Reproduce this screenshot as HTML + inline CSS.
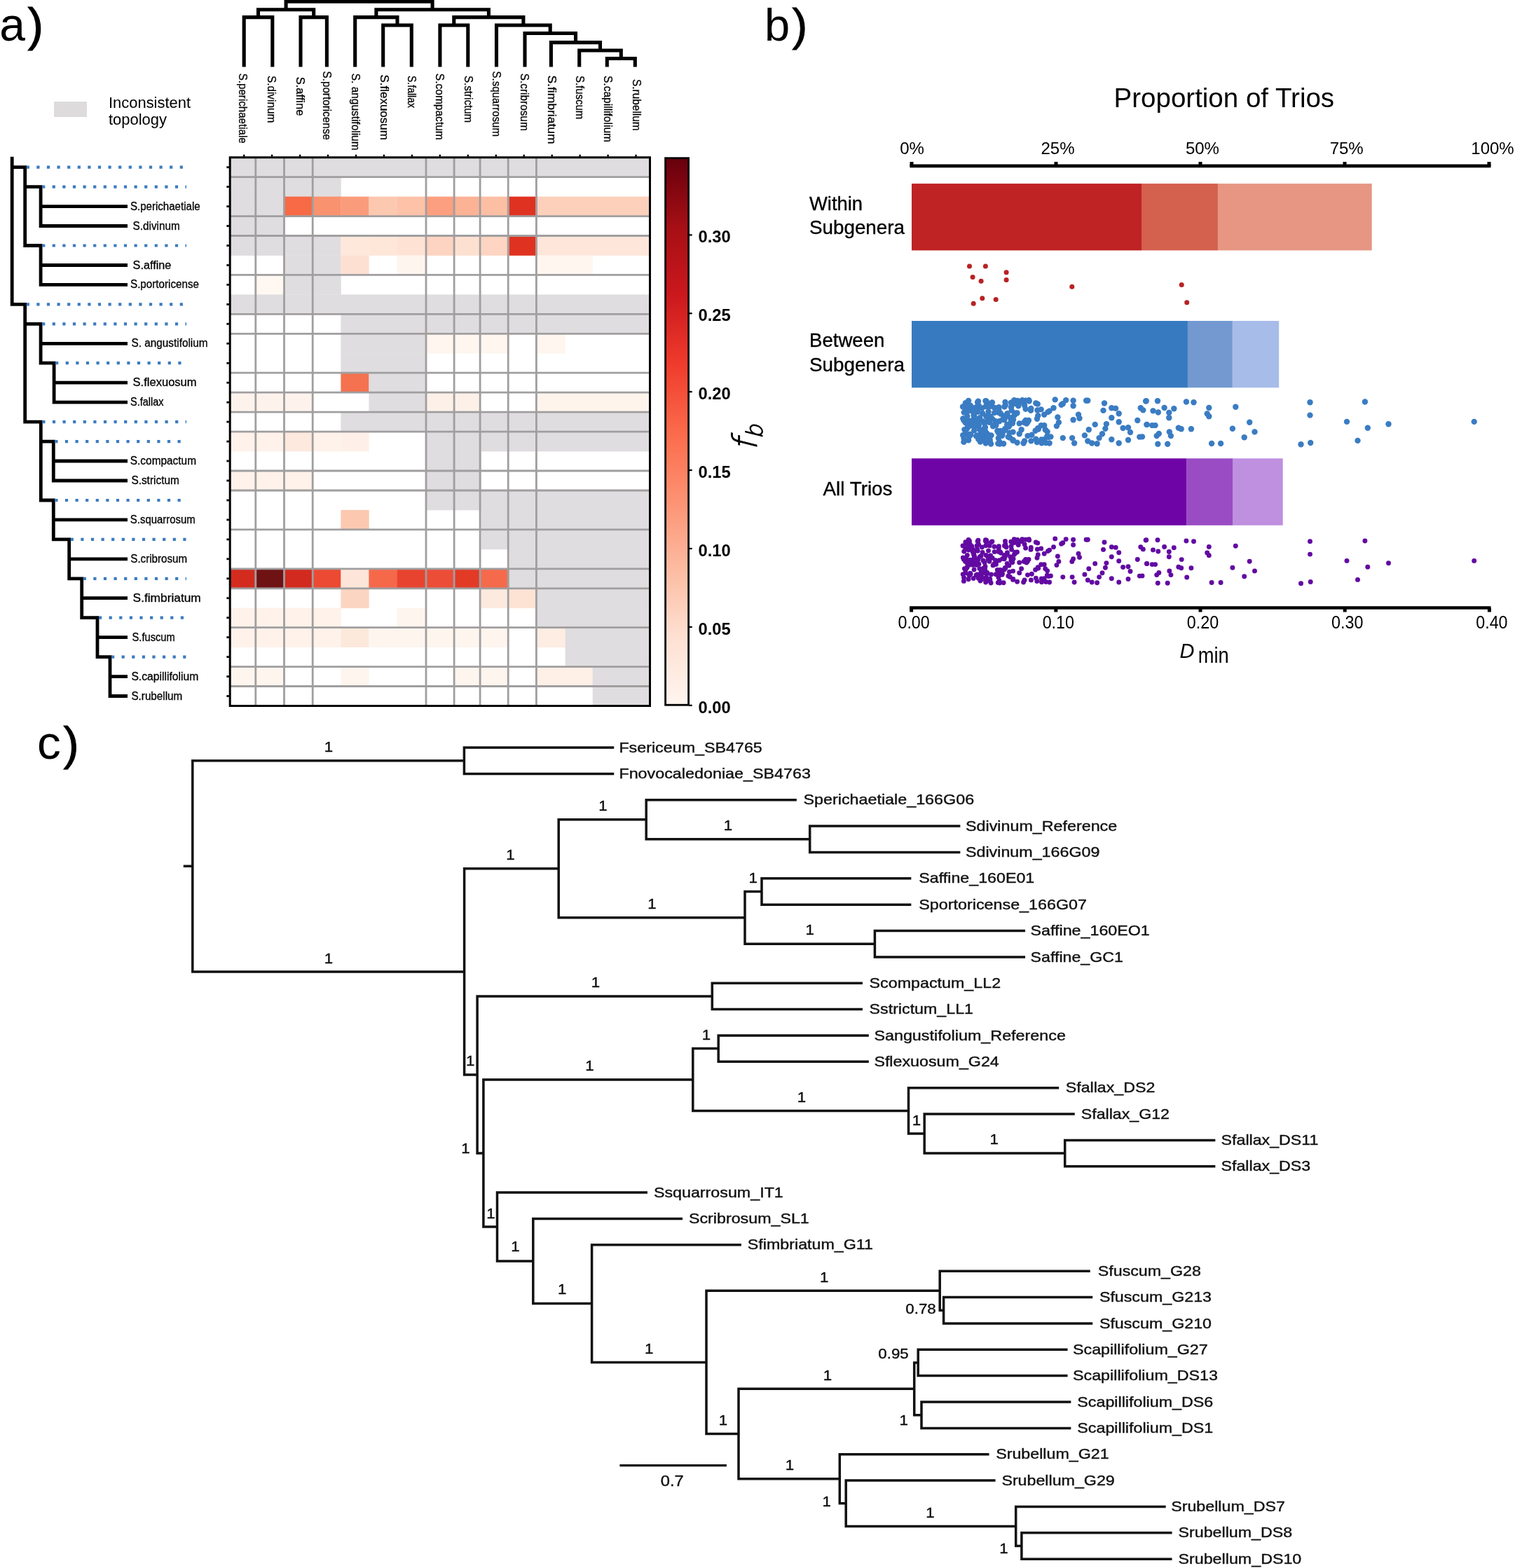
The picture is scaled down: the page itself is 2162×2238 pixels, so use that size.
<!DOCTYPE html>
<html><head><meta charset="utf-8"><title>Figure</title>
<style>html,body{margin:0;padding:0;background:#fff;} svg{display:block;} text{font-family:'Liberation Sans', Arial, sans-serif;}</style>
</head><body>
<svg width="2162" height="2238" viewBox="0 0 2162 2238">
<rect x="0" y="0" width="2162" height="2238" fill="#fff"/>
<text x="-0.8" y="57.5" font-size="66">a</text>
<text x="39.8" y="57.5" font-size="66" stroke="#000" stroke-width="1.2">)</text>
<rect x="77.0" y="145.0" width="47.0" height="22.0" fill="#dddbdc"/>
<text x="155.0" y="154.0" font-size="22" textLength="117.0" lengthAdjust="spacingAndGlyphs">Inconsistent</text>
<text x="155.0" y="177.5" font-size="22" textLength="83.0" lengthAdjust="spacingAndGlyphs">topology</text>
<path d="M348.2,95.5V24.6H388.8V95.5 M429.0,95.5V24.6H466.4V95.5 M368.5,24.6V13.8H447.7V24.6 M546.7,95.5V36.0H587.3V95.5 M506.7,95.5V24.6H567.0V36.0 M627.9,95.5V36.0H667.8V95.5 M866.3,95.5V83.5H906.3V95.5 M826.7,95.5V72.0H886.3V83.5 M786.4,95.5V60.6H856.5V72.0 M749.0,95.5V47.5H821.5V60.6 M708.5,95.5V36.0H785.2V47.5 M647.8,36.0V24.6H746.9V36.0 M536.9,24.6V13.8H697.4V24.6 M408.1,13.8V2.3H617.1V13.8" fill="none" stroke="#000" stroke-width="5.1" stroke-linejoin="miter" stroke-linecap="butt"/>
<text transform="translate(341.3,104.8) rotate(90)" font-size="17" textLength="99.9" lengthAdjust="spacingAndGlyphs" stroke="#000" stroke-width="0.3">S.perichaetiale</text>
<text transform="translate(382.2,108.0) rotate(90)" font-size="17" textLength="67.2" lengthAdjust="spacingAndGlyphs" stroke="#000" stroke-width="0.3">S.divinum</text>
<text transform="translate(423.2,109.7) rotate(90)" font-size="17" textLength="55.7" lengthAdjust="spacingAndGlyphs" stroke="#000" stroke-width="0.3">S.affine</text>
<text transform="translate(460.8,101.5) rotate(90)" font-size="17" textLength="98.3" lengthAdjust="spacingAndGlyphs" stroke="#000" stroke-width="0.3">S.portoricense</text>
<text transform="translate(501.8,104.8) rotate(90)" font-size="17" textLength="109.7" lengthAdjust="spacingAndGlyphs" stroke="#000" stroke-width="0.3">S. angustifolium</text>
<text transform="translate(542.7,106.5) rotate(90)" font-size="17" textLength="93.3" lengthAdjust="spacingAndGlyphs" stroke="#000" stroke-width="0.3">S.flexuosum</text>
<text transform="translate(582.0,108.0) rotate(90)" font-size="17" textLength="46.0" lengthAdjust="spacingAndGlyphs" stroke="#000" stroke-width="0.3">S.fallax</text>
<text transform="translate(622.0,104.8) rotate(90)" font-size="17" textLength="95.0" lengthAdjust="spacingAndGlyphs" stroke="#000" stroke-width="0.3">S.compactum</text>
<text transform="translate(662.5,108.0) rotate(90)" font-size="17" textLength="67.2" lengthAdjust="spacingAndGlyphs" stroke="#000" stroke-width="0.3">S.strictum</text>
<text transform="translate(703.3,101.5) rotate(90)" font-size="17" textLength="93.4" lengthAdjust="spacingAndGlyphs" stroke="#000" stroke-width="0.3">S.squarrosum</text>
<text transform="translate(742.5,104.8) rotate(90)" font-size="17" textLength="81.9" lengthAdjust="spacingAndGlyphs" stroke="#000" stroke-width="0.3">S.cribrosum</text>
<text transform="translate(781.8,107.4) rotate(90)" font-size="17" textLength="98.3" lengthAdjust="spacingAndGlyphs" stroke="#000" stroke-width="0.3">S.fimbriatum</text>
<text transform="translate(821.8,108.0) rotate(90)" font-size="17" textLength="62.3" lengthAdjust="spacingAndGlyphs" stroke="#000" stroke-width="0.3">S.fuscum</text>
<text transform="translate(862.0,108.0) rotate(90)" font-size="17" textLength="95.0" lengthAdjust="spacingAndGlyphs" stroke="#000" stroke-width="0.3">S.capillifolium</text>
<text transform="translate(903.0,113.0) rotate(90)" font-size="17" textLength="73.7" lengthAdjust="spacingAndGlyphs" stroke="#000" stroke-width="0.3">S.rubellum</text>
<rect x="328.2" y="224.7" width="599.6" height="28.3" fill="#dfdddf"/>
<rect x="328.2" y="252.7" width="158.5" height="28.3" fill="#dfdddf"/>
<rect x="328.2" y="280.6" width="78.1" height="28.3" fill="#dfdddf"/>
<rect x="406.0" y="280.6" width="40.8" height="28.3" fill="#f76a45"/>
<rect x="446.5" y="280.6" width="40.2" height="28.3" fill="#f9926f"/>
<rect x="486.4" y="280.6" width="40.3" height="28.3" fill="#fa9c7b"/>
<rect x="526.4" y="280.6" width="40.2" height="28.3" fill="#fdc8b0"/>
<rect x="566.3" y="280.6" width="41.0" height="28.3" fill="#fdc2a7"/>
<rect x="607.0" y="280.6" width="40.8" height="28.3" fill="#fb9f80"/>
<rect x="647.5" y="280.6" width="39.3" height="28.3" fill="#fcb295"/>
<rect x="686.5" y="280.6" width="40.3" height="28.3" fill="#fdbfa4"/>
<rect x="726.5" y="280.6" width="40.3" height="28.3" fill="#e03220"/>
<rect x="766.5" y="280.6" width="161.3" height="28.3" fill="#fdd0bb"/>
<rect x="328.2" y="308.6" width="78.1" height="28.3" fill="#dfdddf"/>
<rect x="328.2" y="336.5" width="158.5" height="28.3" fill="#dfdddf"/>
<rect x="486.4" y="336.5" width="40.3" height="28.3" fill="#fee8dc"/>
<rect x="526.4" y="336.5" width="40.2" height="28.3" fill="#fee6d9"/>
<rect x="566.3" y="336.5" width="41.0" height="28.3" fill="#fee2d4"/>
<rect x="607.0" y="336.5" width="40.8" height="28.3" fill="#fdd4c1"/>
<rect x="647.5" y="336.5" width="39.3" height="28.3" fill="#fee0d1"/>
<rect x="686.5" y="336.5" width="40.3" height="28.3" fill="#fdd5c2"/>
<rect x="726.5" y="336.5" width="40.3" height="28.3" fill="#e03220"/>
<rect x="766.5" y="336.5" width="161.3" height="28.3" fill="#fee6da"/>
<rect x="406.0" y="364.5" width="80.7" height="28.3" fill="#dfdddf"/>
<rect x="486.4" y="364.5" width="40.3" height="28.3" fill="#fde0d2"/>
<rect x="566.3" y="364.5" width="41.0" height="28.3" fill="#fff5ef"/>
<rect x="766.5" y="364.5" width="79.5" height="28.3" fill="#fff6f0"/>
<rect x="365.5" y="392.4" width="40.8" height="28.3" fill="#fff7f2"/>
<rect x="406.0" y="392.4" width="80.7" height="28.3" fill="#dfdddf"/>
<rect x="328.2" y="420.4" width="599.6" height="28.3" fill="#dfdddf"/>
<rect x="486.4" y="448.4" width="441.4" height="28.3" fill="#dfdddf"/>
<rect x="486.4" y="476.3" width="120.9" height="28.3" fill="#dfdddf"/>
<rect x="607.0" y="476.3" width="119.8" height="28.3" fill="#fef6ef"/>
<rect x="766.5" y="476.3" width="40.5" height="28.3" fill="#fef6ef"/>
<rect x="486.4" y="504.3" width="120.9" height="28.3" fill="#dfdddf"/>
<rect x="486.4" y="532.2" width="40.3" height="28.3" fill="#f4724f"/>
<rect x="526.4" y="532.2" width="80.9" height="28.3" fill="#dfdddf"/>
<rect x="328.2" y="560.2" width="118.6" height="28.3" fill="#fef3ec"/>
<rect x="526.4" y="560.2" width="80.9" height="28.3" fill="#dfdddf"/>
<rect x="607.0" y="560.2" width="79.8" height="28.3" fill="#fdf0e8"/>
<rect x="766.5" y="560.2" width="161.3" height="28.3" fill="#fef4ec"/>
<rect x="486.4" y="588.1" width="441.4" height="28.3" fill="#dfdddf"/>
<rect x="328.2" y="616.1" width="78.1" height="28.3" fill="#fef2ea"/>
<rect x="406.0" y="616.1" width="40.8" height="28.3" fill="#fde9de"/>
<rect x="446.5" y="616.1" width="40.2" height="28.3" fill="#fef2ea"/>
<rect x="486.4" y="616.1" width="40.3" height="28.3" fill="#fef0e8"/>
<rect x="607.0" y="616.1" width="320.8" height="28.3" fill="#dfdddf"/>
<rect x="607.0" y="644.1" width="79.8" height="28.3" fill="#dfdddf"/>
<rect x="328.2" y="672.0" width="118.6" height="28.3" fill="#fef2ea"/>
<rect x="607.0" y="672.0" width="79.8" height="28.3" fill="#dfdddf"/>
<rect x="607.0" y="700.0" width="320.8" height="28.3" fill="#dfdddf"/>
<rect x="486.4" y="727.9" width="40.3" height="28.3" fill="#fcc9b0"/>
<rect x="686.5" y="727.9" width="241.3" height="28.3" fill="#dfdddf"/>
<rect x="686.5" y="755.9" width="241.3" height="28.3" fill="#dfdddf"/>
<rect x="726.5" y="783.8" width="201.3" height="28.3" fill="#dfdddf"/>
<rect x="328.2" y="811.8" width="37.6" height="28.3" fill="#d42b1f"/>
<rect x="365.5" y="811.8" width="40.8" height="28.3" fill="#6e1214"/>
<rect x="406.0" y="811.8" width="40.8" height="28.3" fill="#d22a1e"/>
<rect x="446.5" y="811.8" width="40.2" height="28.3" fill="#ec4a32"/>
<rect x="486.4" y="811.8" width="40.3" height="28.3" fill="#fde6d9"/>
<rect x="526.4" y="811.8" width="40.2" height="28.3" fill="#f6684a"/>
<rect x="566.3" y="811.8" width="41.0" height="28.3" fill="#e8432e"/>
<rect x="607.0" y="811.8" width="40.8" height="28.3" fill="#ec4d36"/>
<rect x="647.5" y="811.8" width="39.3" height="28.3" fill="#e33a26"/>
<rect x="686.5" y="811.8" width="40.3" height="28.3" fill="#f46a4b"/>
<rect x="726.5" y="811.8" width="201.3" height="28.3" fill="#dfdddf"/>
<rect x="486.4" y="839.8" width="40.3" height="28.3" fill="#fcd5c2"/>
<rect x="686.5" y="839.8" width="40.3" height="28.3" fill="#fdeade"/>
<rect x="726.5" y="839.8" width="40.3" height="28.3" fill="#fde3d4"/>
<rect x="766.5" y="839.8" width="161.3" height="28.3" fill="#dfdddf"/>
<rect x="328.2" y="867.7" width="158.5" height="28.3" fill="#fef2ea"/>
<rect x="566.3" y="867.7" width="41.0" height="28.3" fill="#fef5ef"/>
<rect x="766.5" y="867.7" width="161.3" height="28.3" fill="#dfdddf"/>
<rect x="328.2" y="895.7" width="158.5" height="28.3" fill="#fef2ea"/>
<rect x="486.4" y="895.7" width="40.3" height="28.3" fill="#fde8dc"/>
<rect x="526.4" y="895.7" width="200.4" height="28.3" fill="#fef5ef"/>
<rect x="766.5" y="895.7" width="40.5" height="28.3" fill="#fdede3"/>
<rect x="806.7" y="895.7" width="121.1" height="28.3" fill="#dfdddf"/>
<rect x="806.7" y="923.6" width="121.1" height="28.3" fill="#dfdddf"/>
<rect x="328.2" y="951.6" width="78.1" height="28.3" fill="#fef5ef"/>
<rect x="486.4" y="951.6" width="40.3" height="28.3" fill="#fef5ef"/>
<rect x="647.5" y="951.6" width="79.3" height="28.3" fill="#fef5ef"/>
<rect x="766.5" y="951.6" width="79.5" height="28.3" fill="#fef0e6"/>
<rect x="845.7" y="951.6" width="82.1" height="28.3" fill="#dfdddf"/>
<rect x="845.7" y="979.5" width="82.1" height="28.3" fill="#dfdddf"/>
<line x1="364.8" y1="224.7" x2="364.8" y2="1007.5" stroke="#a09e9f" stroke-width="2.8" stroke-linecap="butt"/>
<line x1="405.5" y1="224.7" x2="405.5" y2="1007.5" stroke="#a09e9f" stroke-width="2.8" stroke-linecap="butt"/>
<line x1="446.2" y1="224.7" x2="446.2" y2="1007.5" stroke="#a09e9f" stroke-width="2.8" stroke-linecap="butt"/>
<line x1="608.0" y1="224.7" x2="608.0" y2="1007.5" stroke="#a09e9f" stroke-width="2.8" stroke-linecap="butt"/>
<line x1="648.1" y1="224.7" x2="648.1" y2="1007.5" stroke="#a09e9f" stroke-width="2.8" stroke-linecap="butt"/>
<line x1="685.1" y1="224.7" x2="685.1" y2="1007.5" stroke="#a09e9f" stroke-width="2.8" stroke-linecap="butt"/>
<line x1="725.2" y1="224.7" x2="725.2" y2="1007.5" stroke="#a09e9f" stroke-width="2.8" stroke-linecap="butt"/>
<line x1="765.4" y1="224.7" x2="765.4" y2="1007.5" stroke="#a09e9f" stroke-width="2.8" stroke-linecap="butt"/>
<line x1="328.2" y1="252.7" x2="927.5" y2="252.7" stroke="#a09e9f" stroke-width="2.8" stroke-linecap="butt"/>
<line x1="328.2" y1="308.6" x2="927.5" y2="308.6" stroke="#a09e9f" stroke-width="2.8" stroke-linecap="butt"/>
<line x1="328.2" y1="336.5" x2="927.5" y2="336.5" stroke="#a09e9f" stroke-width="2.8" stroke-linecap="butt"/>
<line x1="328.2" y1="392.4" x2="927.5" y2="392.4" stroke="#a09e9f" stroke-width="2.8" stroke-linecap="butt"/>
<line x1="328.2" y1="448.4" x2="927.5" y2="448.4" stroke="#a09e9f" stroke-width="2.8" stroke-linecap="butt"/>
<line x1="328.2" y1="476.3" x2="927.5" y2="476.3" stroke="#a09e9f" stroke-width="2.8" stroke-linecap="butt"/>
<line x1="328.2" y1="532.2" x2="927.5" y2="532.2" stroke="#a09e9f" stroke-width="2.8" stroke-linecap="butt"/>
<line x1="328.2" y1="560.2" x2="927.5" y2="560.2" stroke="#a09e9f" stroke-width="2.8" stroke-linecap="butt"/>
<line x1="328.2" y1="588.1" x2="927.5" y2="588.1" stroke="#a09e9f" stroke-width="2.8" stroke-linecap="butt"/>
<line x1="328.2" y1="616.1" x2="927.5" y2="616.1" stroke="#a09e9f" stroke-width="2.8" stroke-linecap="butt"/>
<line x1="328.2" y1="672.0" x2="927.5" y2="672.0" stroke="#a09e9f" stroke-width="2.8" stroke-linecap="butt"/>
<line x1="328.2" y1="700.0" x2="927.5" y2="700.0" stroke="#a09e9f" stroke-width="2.8" stroke-linecap="butt"/>
<line x1="328.2" y1="755.9" x2="927.5" y2="755.9" stroke="#a09e9f" stroke-width="2.8" stroke-linecap="butt"/>
<line x1="328.2" y1="811.8" x2="927.5" y2="811.8" stroke="#a09e9f" stroke-width="2.8" stroke-linecap="butt"/>
<line x1="328.2" y1="839.8" x2="927.5" y2="839.8" stroke="#a09e9f" stroke-width="2.8" stroke-linecap="butt"/>
<line x1="328.2" y1="895.7" x2="927.5" y2="895.7" stroke="#a09e9f" stroke-width="2.8" stroke-linecap="butt"/>
<line x1="328.2" y1="951.6" x2="927.5" y2="951.6" stroke="#a09e9f" stroke-width="2.8" stroke-linecap="butt"/>
<line x1="328.2" y1="979.5" x2="927.5" y2="979.5" stroke="#a09e9f" stroke-width="2.8" stroke-linecap="butt"/>
<rect x="328.2" y="224.7" width="599.3" height="782.8" fill="none" stroke="#000" stroke-width="3"/>
<rect x="347.0" y="220.7" width="2.4" height="3.0" fill="#000"/>
<rect x="386.9" y="220.7" width="2.4" height="3.0" fill="#000"/>
<rect x="426.9" y="220.7" width="2.4" height="3.0" fill="#000"/>
<rect x="466.8" y="220.7" width="2.4" height="3.0" fill="#000"/>
<rect x="506.8" y="220.7" width="2.4" height="3.0" fill="#000"/>
<rect x="546.7" y="220.7" width="2.4" height="3.0" fill="#000"/>
<rect x="586.7" y="220.7" width="2.4" height="3.0" fill="#000"/>
<rect x="626.6" y="220.7" width="2.4" height="3.0" fill="#000"/>
<rect x="666.6" y="220.7" width="2.4" height="3.0" fill="#000"/>
<rect x="706.6" y="220.7" width="2.4" height="3.0" fill="#000"/>
<rect x="746.5" y="220.7" width="2.4" height="3.0" fill="#000"/>
<rect x="786.5" y="220.7" width="2.4" height="3.0" fill="#000"/>
<rect x="826.4" y="220.7" width="2.4" height="3.0" fill="#000"/>
<rect x="866.4" y="220.7" width="2.4" height="3.0" fill="#000"/>
<rect x="906.3" y="220.7" width="2.4" height="3.0" fill="#000"/>
<rect x="323.4" y="237.3" width="3.4" height="2.8" fill="#000"/>
<rect x="323.4" y="265.2" width="3.4" height="2.8" fill="#000"/>
<rect x="323.4" y="293.2" width="3.4" height="2.8" fill="#000"/>
<rect x="323.4" y="321.1" width="3.4" height="2.8" fill="#000"/>
<rect x="323.4" y="349.1" width="3.4" height="2.8" fill="#000"/>
<rect x="323.4" y="377.1" width="3.4" height="2.8" fill="#000"/>
<rect x="323.4" y="405.0" width="3.4" height="2.8" fill="#000"/>
<rect x="323.4" y="433.0" width="3.4" height="2.8" fill="#000"/>
<rect x="323.4" y="460.9" width="3.4" height="2.8" fill="#000"/>
<rect x="323.4" y="488.9" width="3.4" height="2.8" fill="#000"/>
<rect x="323.4" y="516.9" width="3.4" height="2.8" fill="#000"/>
<rect x="323.4" y="544.8" width="3.4" height="2.8" fill="#000"/>
<rect x="323.4" y="572.8" width="3.4" height="2.8" fill="#000"/>
<rect x="323.4" y="600.7" width="3.4" height="2.8" fill="#000"/>
<rect x="323.4" y="628.7" width="3.4" height="2.8" fill="#000"/>
<rect x="323.4" y="656.6" width="3.4" height="2.8" fill="#000"/>
<rect x="323.4" y="684.6" width="3.4" height="2.8" fill="#000"/>
<rect x="323.4" y="712.6" width="3.4" height="2.8" fill="#000"/>
<rect x="323.4" y="740.5" width="3.4" height="2.8" fill="#000"/>
<rect x="323.4" y="768.5" width="3.4" height="2.8" fill="#000"/>
<rect x="323.4" y="796.4" width="3.4" height="2.8" fill="#000"/>
<rect x="323.4" y="824.4" width="3.4" height="2.8" fill="#000"/>
<rect x="323.4" y="852.3" width="3.4" height="2.8" fill="#000"/>
<rect x="323.4" y="880.3" width="3.4" height="2.8" fill="#000"/>
<rect x="323.4" y="908.2" width="3.4" height="2.8" fill="#000"/>
<rect x="323.4" y="936.2" width="3.4" height="2.8" fill="#000"/>
<rect x="323.4" y="964.2" width="3.4" height="2.8" fill="#000"/>
<rect x="323.4" y="992.1" width="3.4" height="2.8" fill="#000"/>
<path d="M17.2,226.2V434.4 M17.2,238.7H35.7 M17.2,434.4H35.7 M35.7,238.7V350.5 M35.7,266.6H58.1 M35.7,350.5H58.1 M58.1,266.6V322.5 M58.1,294.6H179.6 M58.1,322.5H179.6 M58.1,350.5V406.4 M58.1,378.5H179.6 M58.1,406.4H179.6 M35.7,434.4V602.1 M35.7,462.3H58.1 M35.7,602.1H58.3 M58.1,462.3V518.2 M58.1,490.3H179.6 M58.1,518.2H77.1 M77.1,518.2V574.2 M77.1,546.2H179.6 M77.1,574.2H179.6 M58.3,602.1V714.0 M58.3,630.1H76.3 M58.3,714.0H76.3 M76.3,630.1V686.0 M76.3,658.0H179.6 M76.3,686.0H179.6 M76.3,714.0V769.9 M76.3,741.9H179.6 M76.3,769.9H98.7 M98.7,769.9V825.8 M98.7,797.8H179.6 M98.7,825.8H116.7 M116.7,825.8V881.7 M116.7,853.7H179.6 M116.7,881.7H139.0 M139.0,881.7V937.6 M139.0,909.6H179.6 M139.0,937.6H157.0 M157.0,937.6V993.5 M157.0,965.6H179.6 M157.0,993.5H179.6" fill="none" stroke="#000" stroke-width="4.8" stroke-linecap="square" stroke-linejoin="miter"/>
<line x1="37.7" y1="238.7" x2="266" y2="238.7" stroke="#3b7bbf" stroke-width="4.2" stroke-dasharray="4.2 10.4"/>
<line x1="60.1" y1="266.6" x2="266" y2="266.6" stroke="#3b7bbf" stroke-width="4.2" stroke-dasharray="4.2 10.4"/>
<line x1="60.1" y1="350.5" x2="266" y2="350.5" stroke="#3b7bbf" stroke-width="4.2" stroke-dasharray="4.2 10.4"/>
<line x1="37.7" y1="434.4" x2="266" y2="434.4" stroke="#3b7bbf" stroke-width="4.2" stroke-dasharray="4.2 10.4"/>
<line x1="60.1" y1="462.3" x2="266" y2="462.3" stroke="#3b7bbf" stroke-width="4.2" stroke-dasharray="4.2 10.4"/>
<line x1="79.1" y1="518.2" x2="266" y2="518.2" stroke="#3b7bbf" stroke-width="4.2" stroke-dasharray="4.2 10.4"/>
<line x1="60.3" y1="602.1" x2="266" y2="602.1" stroke="#3b7bbf" stroke-width="4.2" stroke-dasharray="4.2 10.4"/>
<line x1="78.3" y1="630.1" x2="266" y2="630.1" stroke="#3b7bbf" stroke-width="4.2" stroke-dasharray="4.2 10.4"/>
<line x1="78.3" y1="714.0" x2="266" y2="714.0" stroke="#3b7bbf" stroke-width="4.2" stroke-dasharray="4.2 10.4"/>
<line x1="100.7" y1="769.9" x2="266" y2="769.9" stroke="#3b7bbf" stroke-width="4.2" stroke-dasharray="4.2 10.4"/>
<line x1="118.7" y1="825.8" x2="266" y2="825.8" stroke="#3b7bbf" stroke-width="4.2" stroke-dasharray="4.2 10.4"/>
<line x1="141.0" y1="881.7" x2="266" y2="881.7" stroke="#3b7bbf" stroke-width="4.2" stroke-dasharray="4.2 10.4"/>
<line x1="159.0" y1="937.6" x2="266" y2="937.6" stroke="#3b7bbf" stroke-width="4.2" stroke-dasharray="4.2 10.4"/>
<text x="186.0" y="299.6" font-size="16" textLength="99.6" lengthAdjust="spacingAndGlyphs" stroke="#000" stroke-width="0.3">S.perichaetiale</text>
<text x="189.6" y="327.5" font-size="16" textLength="67.0" lengthAdjust="spacingAndGlyphs" stroke="#000" stroke-width="0.3">S.divinum</text>
<text x="189.6" y="383.5" font-size="16" textLength="54.7" lengthAdjust="spacingAndGlyphs" stroke="#000" stroke-width="0.3">S.affine</text>
<text x="186.0" y="411.4" font-size="16" textLength="98.0" lengthAdjust="spacingAndGlyphs" stroke="#000" stroke-width="0.3">S.portoricense</text>
<text x="187.5" y="495.3" font-size="16" textLength="109.0" lengthAdjust="spacingAndGlyphs" stroke="#000" stroke-width="0.3">S. angustifolium</text>
<text x="189.6" y="551.2" font-size="16" textLength="91.0" lengthAdjust="spacingAndGlyphs" stroke="#000" stroke-width="0.3">S.flexuosum</text>
<text x="186.0" y="579.2" font-size="16" textLength="47.5" lengthAdjust="spacingAndGlyphs" stroke="#000" stroke-width="0.3">S.fallax</text>
<text x="185.8" y="663.0" font-size="16" textLength="94.2" lengthAdjust="spacingAndGlyphs" stroke="#000" stroke-width="0.3">S.compactum</text>
<text x="187.4" y="691.0" font-size="16" textLength="68.4" lengthAdjust="spacingAndGlyphs" stroke="#000" stroke-width="0.3">S.strictum</text>
<text x="185.8" y="746.9" font-size="16" textLength="93.0" lengthAdjust="spacingAndGlyphs" stroke="#000" stroke-width="0.3">S.squarrosum</text>
<text x="186.3" y="802.8" font-size="16" textLength="80.8" lengthAdjust="spacingAndGlyphs" stroke="#000" stroke-width="0.3">S.cribrosum</text>
<text x="189.6" y="858.7" font-size="16" textLength="97.2" lengthAdjust="spacingAndGlyphs" stroke="#000" stroke-width="0.3">S.fimbriatum</text>
<text x="188.5" y="914.6" font-size="16" textLength="61.3" lengthAdjust="spacingAndGlyphs" stroke="#000" stroke-width="0.3">S.fuscum</text>
<text x="187.4" y="970.6" font-size="16" textLength="95.8" lengthAdjust="spacingAndGlyphs" stroke="#000" stroke-width="0.3">S.capillifolium</text>
<text x="187.4" y="998.5" font-size="16" textLength="72.9" lengthAdjust="spacingAndGlyphs" stroke="#000" stroke-width="0.3">S.rubellum</text>
<defs><linearGradient id="reds" x1="0" y1="1" x2="0" y2="0"><stop offset="0.0" stop-color="#fff5f0"/><stop offset="0.125" stop-color="#fee0d2"/><stop offset="0.25" stop-color="#fcbba1"/><stop offset="0.375" stop-color="#fc9272"/><stop offset="0.5" stop-color="#fb6a4a"/><stop offset="0.625" stop-color="#ef3b2c"/><stop offset="0.75" stop-color="#cb181d"/><stop offset="0.875" stop-color="#a50f15"/><stop offset="1.0" stop-color="#67000d"/></linearGradient></defs>
<rect x="949.6" y="225.7" width="33.0" height="780.5" fill="url(#reds)" stroke="#000" stroke-width="2.8"/>
<rect x="983.5" y="1005.7" width="4.2" height="2.2" fill="#000"/>
<text x="996.5" y="1017.6" font-size="23.5" font-weight="bold" textLength="46.2" lengthAdjust="spacingAndGlyphs">0.00</text>
<rect x="983.5" y="893.8" width="4.2" height="2.2" fill="#000"/>
<text x="996.5" y="905.7" font-size="23.5" font-weight="bold" textLength="46.2" lengthAdjust="spacingAndGlyphs">0.05</text>
<rect x="983.5" y="781.9" width="4.2" height="2.2" fill="#000"/>
<text x="996.5" y="793.8" font-size="23.5" font-weight="bold" textLength="46.2" lengthAdjust="spacingAndGlyphs">0.10</text>
<rect x="983.5" y="670.0" width="4.2" height="2.2" fill="#000"/>
<text x="996.5" y="681.9" font-size="23.5" font-weight="bold" textLength="46.2" lengthAdjust="spacingAndGlyphs">0.15</text>
<rect x="983.5" y="558.1" width="4.2" height="2.2" fill="#000"/>
<text x="996.5" y="570.0" font-size="23.5" font-weight="bold" textLength="46.2" lengthAdjust="spacingAndGlyphs">0.20</text>
<rect x="983.5" y="446.2" width="4.2" height="2.2" fill="#000"/>
<text x="996.5" y="458.1" font-size="23.5" font-weight="bold" textLength="46.2" lengthAdjust="spacingAndGlyphs">0.25</text>
<rect x="983.5" y="334.3" width="4.2" height="2.2" fill="#000"/>
<text x="996.5" y="346.2" font-size="23.5" font-weight="bold" textLength="46.2" lengthAdjust="spacingAndGlyphs">0.30</text>
<text transform="translate(1080,643.5) rotate(-90)" font-size="48" font-style="italic" stroke="#000" stroke-width="1.0" style="font-family:'DejaVu Sans Light', 'DejaVu Sans', sans-serif">f<tspan font-size="32" dy="7.5">b</tspan></text>
<text x="1091.0" y="57.8" font-size="65">b</text>
<text x="1130.5" y="57.8" font-size="65" stroke="#000" stroke-width="1.0">)</text>
<text x="1589.6" y="152.8" font-size="38.6" textLength="314.5" lengthAdjust="spacingAndGlyphs">Proportion of Trios</text>
<line x1="1298.4" y1="236.8" x2="2127.5" y2="236.8" stroke="#000" stroke-width="4.8" stroke-linecap="butt"/>
<rect x="1298.5" y="231.0" width="5.0" height="6.0" fill="#000"/>
<rect x="1504.5" y="231.0" width="5.0" height="6.0" fill="#000"/>
<rect x="1710.5" y="231.0" width="5.0" height="6.0" fill="#000"/>
<rect x="1916.5" y="231.0" width="5.0" height="6.0" fill="#000"/>
<rect x="2122.5" y="231.0" width="5.0" height="6.0" fill="#000"/>
<text x="1301.5" y="220.3" font-size="24" text-anchor="middle">0%</text>
<text x="1509.5" y="220.3" font-size="24" text-anchor="middle">25%</text>
<text x="1715.9" y="220.3" font-size="24" text-anchor="middle">50%</text>
<text x="1921.7" y="220.3" font-size="24" text-anchor="middle">75%</text>
<text x="2130.0" y="220.3" font-size="24" text-anchor="middle">100%</text>
<rect x="1301.0" y="262.1" width="328.2" height="95.3" fill="#bf2324"/>
<rect x="1629.0" y="262.1" width="109.0" height="95.3" fill="#d4604e"/>
<rect x="1737.8" y="262.1" width="219.9" height="95.3" fill="#e69683"/>
<rect x="1301.0" y="458.0" width="394.0" height="95.3" fill="#377abf"/>
<rect x="1694.8" y="458.0" width="64.1" height="95.3" fill="#7399d0"/>
<rect x="1758.7" y="458.0" width="66.5" height="95.3" fill="#a7bce8"/>
<rect x="1301.0" y="654.3" width="392.5" height="95.5" fill="#6f04a6"/>
<rect x="1693.3" y="654.3" width="65.9" height="95.5" fill="#9a4cc4"/>
<rect x="1759.0" y="654.3" width="71.7" height="95.5" fill="#bf8fe0"/>
<text x="1155.0" y="299.6" font-size="27.6" textLength="76.0" lengthAdjust="spacingAndGlyphs" stroke="#000" stroke-width="0.35">Within</text>
<text x="1155.0" y="333.9" font-size="27.6" textLength="136.0" lengthAdjust="spacingAndGlyphs" stroke="#000" stroke-width="0.35">Subgenera</text>
<text x="1155.0" y="495.0" font-size="27.6" stroke="#000" stroke-width="0.35">Between</text>
<text x="1155.0" y="529.6" font-size="27.6" textLength="136.0" lengthAdjust="spacingAndGlyphs" stroke="#000" stroke-width="0.35">Subgenera</text>
<text x="1174.5" y="706.5" font-size="27.6" textLength="99.0" lengthAdjust="spacingAndGlyphs" stroke="#000" stroke-width="0.35">All Trios</text>
<g fill="#b82224"><circle cx="1383.5" cy="380.1" r="3.5"/><circle cx="1406.4" cy="380.1" r="3.5"/><circle cx="1436.1" cy="388.7" r="3.5"/><circle cx="1388.1" cy="395.5" r="3.5"/><circle cx="1400.1" cy="401.2" r="3.5"/><circle cx="1436.1" cy="399.5" r="3.5"/><circle cx="1529.8" cy="409.3" r="3.5"/><circle cx="1686.2" cy="406.4" r="3.5"/><circle cx="1389.2" cy="433.3" r="3.5"/><circle cx="1401.8" cy="425.8" r="3.5"/><circle cx="1421.2" cy="427.6" r="3.5"/><circle cx="1693.7" cy="431.8" r="3.5"/></g>
<g fill="#3a7cc3"><circle cx="1635.7" cy="572.2" r="4.2"/><circle cx="1652.0" cy="572.2" r="4.2"/><circle cx="1631.3" cy="585.4" r="4.2"/><circle cx="1645.5" cy="586.4" r="4.2"/><circle cx="1652.8" cy="588.5" r="4.2"/><circle cx="1661.6" cy="582.0" r="4.2"/><circle cx="1668.3" cy="589.0" r="4.2"/><circle cx="1675.3" cy="583.3" r="4.2"/><circle cx="1668.3" cy="596.2" r="4.2"/><circle cx="1692.9" cy="573.5" r="4.2"/><circle cx="1703.5" cy="574.2" r="4.2"/><circle cx="1725.3" cy="582.0" r="4.2"/><circle cx="1722.7" cy="590.5" r="4.2"/><circle cx="1725.3" cy="594.2" r="4.2"/><circle cx="1763.3" cy="580.7" r="4.2"/><circle cx="1636.5" cy="606.1" r="4.2"/><circle cx="1644.2" cy="607.1" r="4.2"/><circle cx="1648.6" cy="607.1" r="4.2"/><circle cx="1668.8" cy="616.4" r="4.2"/><circle cx="1653.8" cy="619.0" r="4.2"/><circle cx="1650.7" cy="622.1" r="4.2"/><circle cx="1670.9" cy="622.1" r="4.2"/><circle cx="1681.8" cy="610.7" r="4.2"/><circle cx="1685.7" cy="612.3" r="4.2"/><circle cx="1699.9" cy="612.3" r="4.2"/><circle cx="1630.0" cy="623.4" r="4.2"/><circle cx="1652.3" cy="633.8" r="4.2"/><circle cx="1666.2" cy="633.8" r="4.2"/><circle cx="1729.1" cy="633.0" r="4.2"/><circle cx="1742.1" cy="633.0" r="4.2"/><circle cx="1758.9" cy="611.8" r="4.2"/><circle cx="1783.2" cy="602.7" r="4.2"/><circle cx="1790.5" cy="616.4" r="4.2"/><circle cx="1775.7" cy="624.2" r="4.2"/><circle cx="1869.5" cy="574.2" r="4.2"/><circle cx="1869.5" cy="592.6" r="4.2"/><circle cx="1856.5" cy="634.3" r="4.2"/><circle cx="1870.2" cy="632.0" r="4.2"/><circle cx="1947.9" cy="573.5" r="4.2"/><circle cx="1922.0" cy="601.9" r="4.2"/><circle cx="1951.8" cy="610.7" r="4.2"/><circle cx="1981.5" cy="605.3" r="4.2"/><circle cx="1937.5" cy="628.9" r="4.2"/><circle cx="2103.7" cy="601.9" r="4.2"/><circle cx="1447.3" cy="571.1" r="4.2"/><circle cx="1442.8" cy="574.8" r="4.2"/><circle cx="1452.5" cy="577.8" r="4.2"/><circle cx="1463.6" cy="571.8" r="4.2"/><circle cx="1468.7" cy="572.6" r="4.2"/><circle cx="1462.1" cy="578.5" r="4.2"/><circle cx="1478.3" cy="575.5" r="4.2"/><circle cx="1471.0" cy="585.9" r="4.2"/><circle cx="1443.6" cy="585.9" r="4.2"/><circle cx="1448.8" cy="589.6" r="4.2"/><circle cx="1463.6" cy="583.7" r="4.2"/><circle cx="1485.7" cy="584.4" r="4.2"/><circle cx="1481.3" cy="593.3" r="4.2"/><circle cx="1490.2" cy="591.8" r="4.2"/><circle cx="1495.4" cy="588.1" r="4.2"/><circle cx="1497.6" cy="586.6" r="4.2"/><circle cx="1505.7" cy="570.4" r="4.2"/><circle cx="1503.5" cy="582.2" r="4.2"/><circle cx="1516.8" cy="576.3" r="4.2"/><circle cx="1521.2" cy="571.1" r="4.2"/><circle cx="1531.6" cy="571.8" r="4.2"/><circle cx="1531.6" cy="579.2" r="4.2"/><circle cx="1514.6" cy="577.8" r="4.2"/><circle cx="1509.4" cy="595.5" r="4.2"/><circle cx="1510.9" cy="602.9" r="4.2"/><circle cx="1507.9" cy="608.1" r="4.2"/><circle cx="1539.0" cy="591.8" r="4.2"/><circle cx="1531.6" cy="599.2" r="4.2"/><circle cx="1540.5" cy="597.0" r="4.2"/><circle cx="1550.1" cy="571.8" r="4.2"/><circle cx="1552.3" cy="571.8" r="4.2"/><circle cx="1576.0" cy="575.5" r="4.2"/><circle cx="1574.5" cy="585.9" r="4.2"/><circle cx="1586.3" cy="582.2" r="4.2"/><circle cx="1592.2" cy="582.9" r="4.2"/><circle cx="1596.7" cy="590.3" r="4.2"/><circle cx="1586.3" cy="596.2" r="4.2"/><circle cx="1596.7" cy="602.2" r="4.2"/><circle cx="1635.1" cy="572.6" r="4.2"/><circle cx="1627.8" cy="582.2" r="4.2"/><circle cx="1623.3" cy="600.0" r="4.2"/><circle cx="1636.6" cy="605.9" r="4.2"/><circle cx="1626.3" cy="623.6" r="4.2"/><circle cx="1562.7" cy="605.9" r="4.2"/><circle cx="1553.8" cy="613.3" r="4.2"/><circle cx="1578.9" cy="605.1" r="4.2"/><circle cx="1577.4" cy="611.8" r="4.2"/><circle cx="1573.0" cy="619.2" r="4.2"/><circle cx="1568.6" cy="625.1" r="4.2"/><circle cx="1547.9" cy="621.4" r="4.2"/><circle cx="1552.3" cy="629.5" r="4.2"/><circle cx="1558.2" cy="632.5" r="4.2"/><circle cx="1565.6" cy="633.2" r="4.2"/><circle cx="1586.3" cy="627.3" r="4.2"/><circle cx="1596.7" cy="632.5" r="4.2"/><circle cx="1610.0" cy="628.0" r="4.2"/><circle cx="1602.6" cy="611.0" r="4.2"/><circle cx="1610.0" cy="610.3" r="4.2"/><circle cx="1613.0" cy="617.0" r="4.2"/><circle cx="1516.8" cy="625.1" r="4.2"/><circle cx="1530.1" cy="625.1" r="4.2"/><circle cx="1533.1" cy="632.5" r="4.2"/><circle cx="1497.6" cy="632.5" r="4.2"/><circle cx="1490.2" cy="627.3" r="4.2"/><circle cx="1494.6" cy="616.2" r="4.2"/><circle cx="1496.1" cy="623.6" r="4.2"/><circle cx="1485.7" cy="607.3" r="4.2"/><circle cx="1490.2" cy="607.3" r="4.2"/><circle cx="1477.6" cy="614.7" r="4.2"/><circle cx="1472.4" cy="620.7" r="4.2"/><circle cx="1478.3" cy="626.6" r="4.2"/><circle cx="1479.8" cy="631.0" r="4.2"/><circle cx="1462.1" cy="629.5" r="4.2"/><circle cx="1460.6" cy="632.5" r="4.2"/><circle cx="1454.7" cy="619.2" r="4.2"/><circle cx="1457.6" cy="613.3" r="4.2"/><circle cx="1445.8" cy="628.0" r="4.2"/><circle cx="1466.5" cy="622.1" r="4.2"/><circle cx="1463.6" cy="600.0" r="4.2"/><circle cx="1468.0" cy="600.0" r="4.2"/><circle cx="1454.7" cy="604.4" r="4.2"/><circle cx="1442.8" cy="601.4" r="4.2"/><circle cx="1439.9" cy="608.8" r="4.2"/><circle cx="1394.1" cy="580.5" r="4.2"/><circle cx="1414.4" cy="575.6" r="4.2"/><circle cx="1407.2" cy="594.0" r="4.2"/><circle cx="1377.6" cy="603.0" r="4.2"/><circle cx="1376.3" cy="598.3" r="4.2"/><circle cx="1378.3" cy="576.7" r="4.2"/><circle cx="1400.3" cy="623.1" r="4.2"/><circle cx="1381.7" cy="585.1" r="4.2"/><circle cx="1412.9" cy="630.7" r="4.2"/><circle cx="1409.8" cy="596.0" r="4.2"/><circle cx="1434.5" cy="573.9" r="4.2"/><circle cx="1427.2" cy="589.2" r="4.2"/><circle cx="1382.9" cy="578.4" r="4.2"/><circle cx="1393.1" cy="622.4" r="4.2"/><circle cx="1385.2" cy="607.6" r="4.2"/><circle cx="1413.6" cy="594.5" r="4.2"/><circle cx="1408.0" cy="575.0" r="4.2"/><circle cx="1377.7" cy="584.0" r="4.2"/><circle cx="1416.2" cy="597.9" r="4.2"/><circle cx="1393.5" cy="607.9" r="4.2"/><circle cx="1402.1" cy="589.9" r="4.2"/><circle cx="1423.3" cy="615.0" r="4.2"/><circle cx="1389.1" cy="607.2" r="4.2"/><circle cx="1406.6" cy="626.1" r="4.2"/><circle cx="1419.2" cy="589.1" r="4.2"/><circle cx="1434.8" cy="578.4" r="4.2"/><circle cx="1399.9" cy="618.7" r="4.2"/><circle cx="1383.4" cy="601.8" r="4.2"/><circle cx="1376.4" cy="613.1" r="4.2"/><circle cx="1421.4" cy="607.1" r="4.2"/><circle cx="1428.3" cy="590.8" r="4.2"/><circle cx="1417.1" cy="608.4" r="4.2"/><circle cx="1410.0" cy="599.7" r="4.2"/><circle cx="1426.1" cy="630.5" r="4.2"/><circle cx="1403.4" cy="612.8" r="4.2"/><circle cx="1377.8" cy="615.2" r="4.2"/><circle cx="1414.1" cy="633.6" r="4.2"/><circle cx="1425.0" cy="588.9" r="4.2"/><circle cx="1397.9" cy="613.1" r="4.2"/><circle cx="1375.4" cy="600.1" r="4.2"/><circle cx="1384.4" cy="578.4" r="4.2"/><circle cx="1377.7" cy="619.4" r="4.2"/><circle cx="1382.0" cy="586.6" r="4.2"/><circle cx="1398.2" cy="625.9" r="4.2"/><circle cx="1379.0" cy="599.3" r="4.2"/><circle cx="1408.1" cy="626.7" r="4.2"/><circle cx="1424.8" cy="625.4" r="4.2"/><circle cx="1391.3" cy="597.2" r="4.2"/><circle cx="1396.2" cy="626.7" r="4.2"/><circle cx="1433.4" cy="580.5" r="4.2"/><circle cx="1384.9" cy="585.6" r="4.2"/><circle cx="1388.5" cy="601.6" r="4.2"/><circle cx="1410.5" cy="587.6" r="4.2"/><circle cx="1374.3" cy="597.4" r="4.2"/><circle cx="1396.9" cy="606.7" r="4.2"/><circle cx="1433.1" cy="614.5" r="4.2"/><circle cx="1406.0" cy="609.9" r="4.2"/><circle cx="1415.9" cy="574.4" r="4.2"/><circle cx="1429.8" cy="620.1" r="4.2"/><circle cx="1428.2" cy="621.3" r="4.2"/><circle cx="1398.3" cy="596.1" r="4.2"/><circle cx="1380.4" cy="611.0" r="4.2"/><circle cx="1377.9" cy="575.2" r="4.2"/><circle cx="1386.9" cy="581.2" r="4.2"/><circle cx="1395.1" cy="574.3" r="4.2"/><circle cx="1374.0" cy="580.5" r="4.2"/><circle cx="1380.3" cy="593.9" r="4.2"/><circle cx="1375.6" cy="626.1" r="4.2"/><circle cx="1412.1" cy="580.4" r="4.2"/><circle cx="1389.6" cy="592.9" r="4.2"/><circle cx="1396.6" cy="578.7" r="4.2"/><circle cx="1426.6" cy="633.6" r="4.2"/><circle cx="1402.9" cy="601.5" r="4.2"/><circle cx="1379.3" cy="577.4" r="4.2"/><circle cx="1395.2" cy="587.7" r="4.2"/><circle cx="1425.4" cy="581.2" r="4.2"/><circle cx="1375.4" cy="630.9" r="4.2"/><circle cx="1406.8" cy="580.2" r="4.2"/><circle cx="1407.7" cy="572.7" r="4.2"/><circle cx="1406.7" cy="632.6" r="4.2"/><circle cx="1427.5" cy="614.9" r="4.2"/><circle cx="1390.2" cy="594.1" r="4.2"/><circle cx="1384.4" cy="619.6" r="4.2"/><circle cx="1407.0" cy="620.1" r="4.2"/><circle cx="1394.4" cy="585.1" r="4.2"/><circle cx="1424.3" cy="633.1" r="4.2"/><circle cx="1426.9" cy="621.8" r="4.2"/><circle cx="1424.7" cy="617.6" r="4.2"/><circle cx="1388.1" cy="603.6" r="4.2"/><circle cx="1396.0" cy="572.8" r="4.2"/><circle cx="1375.7" cy="588.6" r="4.2"/><circle cx="1390.1" cy="614.6" r="4.2"/><circle cx="1433.3" cy="599.2" r="4.2"/><circle cx="1432.1" cy="633.2" r="4.2"/><circle cx="1433.2" cy="594.0" r="4.2"/><circle cx="1387.7" cy="585.3" r="4.2"/><circle cx="1386.2" cy="583.9" r="4.2"/><circle cx="1412.7" cy="627.7" r="4.2"/><circle cx="1426.1" cy="601.2" r="4.2"/><circle cx="1414.5" cy="621.4" r="4.2"/><circle cx="1379.3" cy="612.6" r="4.2"/><circle cx="1430.4" cy="620.3" r="4.2"/><circle cx="1420.5" cy="601.1" r="4.2"/><circle cx="1385.1" cy="620.7" r="4.2"/><circle cx="1394.6" cy="621.5" r="4.2"/><circle cx="1434.2" cy="595.9" r="4.2"/><circle cx="1398.9" cy="630.6" r="4.2"/><circle cx="1418.9" cy="581.7" r="4.2"/><circle cx="1381.9" cy="580.5" r="4.2"/><circle cx="1430.1" cy="621.8" r="4.2"/><circle cx="1383.1" cy="623.1" r="4.2"/><circle cx="1434.8" cy="612.4" r="4.2"/><circle cx="1395.7" cy="605.6" r="4.2"/><circle cx="1382.1" cy="571.9" r="4.2"/><circle cx="1434.2" cy="611.9" r="4.2"/><circle cx="1406.6" cy="629.8" r="4.2"/><circle cx="1400.9" cy="625.9" r="4.2"/><circle cx="1425.2" cy="584.3" r="4.2"/><circle cx="1389.6" cy="589.5" r="4.2"/><circle cx="1388.9" cy="607.9" r="4.2"/><circle cx="1390.1" cy="597.4" r="4.2"/><circle cx="1382.1" cy="628.3" r="4.2"/><circle cx="1395.9" cy="599.9" r="4.2"/><circle cx="1410.2" cy="628.0" r="4.2"/><circle cx="1400.1" cy="628.8" r="4.2"/><circle cx="1405.1" cy="604.5" r="4.2"/><circle cx="1406.5" cy="572.2" r="4.2"/><circle cx="1401.3" cy="582.5" r="4.2"/><circle cx="1374.2" cy="621.3" r="4.2"/><circle cx="1384.7" cy="600.8" r="4.2"/><circle cx="1419.0" cy="606.1" r="4.2"/><circle cx="1394.2" cy="603.7" r="4.2"/><circle cx="1408.4" cy="620.4" r="4.2"/><circle cx="1380.6" cy="606.3" r="4.2"/><circle cx="1389.4" cy="588.4" r="4.2"/><circle cx="1421.9" cy="603.0" r="4.2"/><circle cx="1408.8" cy="618.9" r="4.2"/><circle cx="1430.6" cy="598.9" r="4.2"/><circle cx="1412.0" cy="602.8" r="4.2"/><circle cx="1405.8" cy="614.6" r="4.2"/><circle cx="1465.0" cy="604.6" r="4.2"/><circle cx="1496.4" cy="623.9" r="4.2"/><circle cx="1443.8" cy="598.9" r="4.2"/><circle cx="1451.4" cy="575.6" r="4.2"/><circle cx="1486.2" cy="627.5" r="4.2"/><circle cx="1481.8" cy="612.6" r="4.2"/><circle cx="1492.5" cy="632.0" r="4.2"/><circle cx="1499.4" cy="623.4" r="4.2"/><circle cx="1463.6" cy="603.5" r="4.2"/><circle cx="1448.5" cy="591.1" r="4.2"/><circle cx="1437.2" cy="605.9" r="4.2"/><circle cx="1437.2" cy="591.9" r="4.2"/><circle cx="1486.5" cy="632.2" r="4.2"/><circle cx="1453.0" cy="573.5" r="4.2"/><circle cx="1453.3" cy="579.2" r="4.2"/><circle cx="1494.3" cy="622.6" r="4.2"/><circle cx="1445.6" cy="628.9" r="4.2"/><circle cx="1480.8" cy="576.6" r="4.2"/><circle cx="1480.0" cy="597.8" r="4.2"/><circle cx="1441.4" cy="624.9" r="4.2"/><circle cx="1471.4" cy="629.4" r="4.2"/><circle cx="1444.3" cy="604.2" r="4.2"/><circle cx="1443.0" cy="581.2" r="4.2"/><circle cx="1448.9" cy="590.7" r="4.2"/><circle cx="1447.4" cy="592.9" r="4.2"/><circle cx="1452.0" cy="572.0" r="4.2"/><circle cx="1471.3" cy="582.9" r="4.2"/><circle cx="1461.2" cy="602.9" r="4.2"/><circle cx="1481.2" cy="611.1" r="4.2"/><circle cx="1458.2" cy="574.4" r="4.2"/><circle cx="1440.5" cy="617.7" r="4.2"/><circle cx="1446.4" cy="576.3" r="4.2"/><circle cx="1491.7" cy="613.2" r="4.2"/><circle cx="1451.5" cy="589.5" r="4.2"/><circle cx="1446.1" cy="599.1" r="4.2"/><circle cx="1451.6" cy="631.8" r="4.2"/><circle cx="1458.8" cy="571.1" r="4.2"/><circle cx="1466.4" cy="602.7" r="4.2"/><circle cx="1468.3" cy="571.3" r="4.2"/><circle cx="1441.7" cy="596.2" r="4.2"/><circle cx="1437.4" cy="590.2" r="4.2"/><circle cx="1445.6" cy="616.6" r="4.2"/><circle cx="1438.8" cy="623.6" r="4.2"/><circle cx="1444.9" cy="604.0" r="4.2"/><circle cx="1480.4" cy="585.5" r="4.2"/></g>
<g fill="#620aa2"><circle cx="1635.7" cy="770.7" r="3.45"/><circle cx="1652.0" cy="770.7" r="3.45"/><circle cx="1631.3" cy="783.9" r="3.45"/><circle cx="1645.5" cy="784.9" r="3.45"/><circle cx="1652.8" cy="787.0" r="3.45"/><circle cx="1661.6" cy="780.5" r="3.45"/><circle cx="1668.3" cy="787.5" r="3.45"/><circle cx="1675.3" cy="781.8" r="3.45"/><circle cx="1668.3" cy="794.7" r="3.45"/><circle cx="1692.9" cy="772.0" r="3.45"/><circle cx="1703.5" cy="772.7" r="3.45"/><circle cx="1725.3" cy="780.5" r="3.45"/><circle cx="1722.7" cy="789.0" r="3.45"/><circle cx="1725.3" cy="792.7" r="3.45"/><circle cx="1763.3" cy="779.2" r="3.45"/><circle cx="1636.5" cy="804.6" r="3.45"/><circle cx="1644.2" cy="805.6" r="3.45"/><circle cx="1648.6" cy="805.6" r="3.45"/><circle cx="1668.8" cy="814.9" r="3.45"/><circle cx="1653.8" cy="817.5" r="3.45"/><circle cx="1650.7" cy="820.6" r="3.45"/><circle cx="1670.9" cy="820.6" r="3.45"/><circle cx="1681.8" cy="809.2" r="3.45"/><circle cx="1685.7" cy="810.8" r="3.45"/><circle cx="1699.9" cy="810.8" r="3.45"/><circle cx="1630.0" cy="821.9" r="3.45"/><circle cx="1652.3" cy="832.3" r="3.45"/><circle cx="1666.2" cy="832.3" r="3.45"/><circle cx="1729.1" cy="831.5" r="3.45"/><circle cx="1742.1" cy="831.5" r="3.45"/><circle cx="1758.9" cy="810.3" r="3.45"/><circle cx="1783.2" cy="801.2" r="3.45"/><circle cx="1790.5" cy="814.9" r="3.45"/><circle cx="1775.7" cy="822.7" r="3.45"/><circle cx="1869.5" cy="772.7" r="3.45"/><circle cx="1869.5" cy="791.1" r="3.45"/><circle cx="1856.5" cy="832.8" r="3.45"/><circle cx="1870.2" cy="830.5" r="3.45"/><circle cx="1947.9" cy="772.0" r="3.45"/><circle cx="1922.0" cy="800.4" r="3.45"/><circle cx="1951.8" cy="809.2" r="3.45"/><circle cx="1981.5" cy="803.8" r="3.45"/><circle cx="1937.5" cy="827.4" r="3.45"/><circle cx="2103.7" cy="800.4" r="3.45"/><circle cx="1447.3" cy="769.6" r="3.45"/><circle cx="1442.8" cy="773.3" r="3.45"/><circle cx="1452.5" cy="776.3" r="3.45"/><circle cx="1463.6" cy="770.3" r="3.45"/><circle cx="1468.7" cy="771.1" r="3.45"/><circle cx="1462.1" cy="777.0" r="3.45"/><circle cx="1478.3" cy="774.0" r="3.45"/><circle cx="1471.0" cy="784.4" r="3.45"/><circle cx="1443.6" cy="784.4" r="3.45"/><circle cx="1448.8" cy="788.1" r="3.45"/><circle cx="1463.6" cy="782.2" r="3.45"/><circle cx="1485.7" cy="782.9" r="3.45"/><circle cx="1481.3" cy="791.8" r="3.45"/><circle cx="1490.2" cy="790.3" r="3.45"/><circle cx="1495.4" cy="786.6" r="3.45"/><circle cx="1497.6" cy="785.1" r="3.45"/><circle cx="1505.7" cy="768.9" r="3.45"/><circle cx="1503.5" cy="780.7" r="3.45"/><circle cx="1516.8" cy="774.8" r="3.45"/><circle cx="1521.2" cy="769.6" r="3.45"/><circle cx="1531.6" cy="770.3" r="3.45"/><circle cx="1531.6" cy="777.7" r="3.45"/><circle cx="1514.6" cy="776.3" r="3.45"/><circle cx="1509.4" cy="794.0" r="3.45"/><circle cx="1510.9" cy="801.4" r="3.45"/><circle cx="1507.9" cy="806.6" r="3.45"/><circle cx="1539.0" cy="790.3" r="3.45"/><circle cx="1531.6" cy="797.7" r="3.45"/><circle cx="1540.5" cy="795.5" r="3.45"/><circle cx="1550.1" cy="770.3" r="3.45"/><circle cx="1552.3" cy="770.3" r="3.45"/><circle cx="1576.0" cy="774.0" r="3.45"/><circle cx="1574.5" cy="784.4" r="3.45"/><circle cx="1586.3" cy="780.7" r="3.45"/><circle cx="1592.2" cy="781.4" r="3.45"/><circle cx="1596.7" cy="788.8" r="3.45"/><circle cx="1586.3" cy="794.7" r="3.45"/><circle cx="1596.7" cy="800.7" r="3.45"/><circle cx="1635.1" cy="771.1" r="3.45"/><circle cx="1627.8" cy="780.7" r="3.45"/><circle cx="1623.3" cy="798.5" r="3.45"/><circle cx="1636.6" cy="804.4" r="3.45"/><circle cx="1626.3" cy="822.1" r="3.45"/><circle cx="1562.7" cy="804.4" r="3.45"/><circle cx="1553.8" cy="811.8" r="3.45"/><circle cx="1578.9" cy="803.6" r="3.45"/><circle cx="1577.4" cy="810.3" r="3.45"/><circle cx="1573.0" cy="817.7" r="3.45"/><circle cx="1568.6" cy="823.6" r="3.45"/><circle cx="1547.9" cy="819.9" r="3.45"/><circle cx="1552.3" cy="828.0" r="3.45"/><circle cx="1558.2" cy="831.0" r="3.45"/><circle cx="1565.6" cy="831.7" r="3.45"/><circle cx="1586.3" cy="825.8" r="3.45"/><circle cx="1596.7" cy="831.0" r="3.45"/><circle cx="1610.0" cy="826.5" r="3.45"/><circle cx="1602.6" cy="809.5" r="3.45"/><circle cx="1610.0" cy="808.8" r="3.45"/><circle cx="1613.0" cy="815.5" r="3.45"/><circle cx="1516.8" cy="823.6" r="3.45"/><circle cx="1530.1" cy="823.6" r="3.45"/><circle cx="1533.1" cy="831.0" r="3.45"/><circle cx="1497.6" cy="831.0" r="3.45"/><circle cx="1490.2" cy="825.8" r="3.45"/><circle cx="1494.6" cy="814.7" r="3.45"/><circle cx="1496.1" cy="822.1" r="3.45"/><circle cx="1485.7" cy="805.8" r="3.45"/><circle cx="1490.2" cy="805.8" r="3.45"/><circle cx="1477.6" cy="813.2" r="3.45"/><circle cx="1472.4" cy="819.2" r="3.45"/><circle cx="1478.3" cy="825.1" r="3.45"/><circle cx="1479.8" cy="829.5" r="3.45"/><circle cx="1462.1" cy="828.0" r="3.45"/><circle cx="1460.6" cy="831.0" r="3.45"/><circle cx="1454.7" cy="817.7" r="3.45"/><circle cx="1457.6" cy="811.8" r="3.45"/><circle cx="1445.8" cy="826.5" r="3.45"/><circle cx="1466.5" cy="820.6" r="3.45"/><circle cx="1463.6" cy="798.5" r="3.45"/><circle cx="1468.0" cy="798.5" r="3.45"/><circle cx="1454.7" cy="802.9" r="3.45"/><circle cx="1442.8" cy="799.9" r="3.45"/><circle cx="1439.9" cy="807.3" r="3.45"/><circle cx="1394.1" cy="779.0" r="3.45"/><circle cx="1414.4" cy="774.1" r="3.45"/><circle cx="1407.2" cy="792.5" r="3.45"/><circle cx="1377.6" cy="801.5" r="3.45"/><circle cx="1376.3" cy="796.8" r="3.45"/><circle cx="1378.3" cy="775.2" r="3.45"/><circle cx="1400.3" cy="821.6" r="3.45"/><circle cx="1381.7" cy="783.6" r="3.45"/><circle cx="1412.9" cy="829.2" r="3.45"/><circle cx="1409.8" cy="794.5" r="3.45"/><circle cx="1434.5" cy="772.4" r="3.45"/><circle cx="1427.2" cy="787.7" r="3.45"/><circle cx="1382.9" cy="776.9" r="3.45"/><circle cx="1393.1" cy="820.9" r="3.45"/><circle cx="1385.2" cy="806.1" r="3.45"/><circle cx="1413.6" cy="793.0" r="3.45"/><circle cx="1408.0" cy="773.5" r="3.45"/><circle cx="1377.7" cy="782.5" r="3.45"/><circle cx="1416.2" cy="796.4" r="3.45"/><circle cx="1393.5" cy="806.4" r="3.45"/><circle cx="1402.1" cy="788.4" r="3.45"/><circle cx="1423.3" cy="813.5" r="3.45"/><circle cx="1389.1" cy="805.7" r="3.45"/><circle cx="1406.6" cy="824.6" r="3.45"/><circle cx="1419.2" cy="787.6" r="3.45"/><circle cx="1434.8" cy="776.9" r="3.45"/><circle cx="1399.9" cy="817.2" r="3.45"/><circle cx="1383.4" cy="800.3" r="3.45"/><circle cx="1376.4" cy="811.6" r="3.45"/><circle cx="1421.4" cy="805.6" r="3.45"/><circle cx="1428.3" cy="789.3" r="3.45"/><circle cx="1417.1" cy="806.9" r="3.45"/><circle cx="1410.0" cy="798.2" r="3.45"/><circle cx="1426.1" cy="829.0" r="3.45"/><circle cx="1403.4" cy="811.3" r="3.45"/><circle cx="1377.8" cy="813.7" r="3.45"/><circle cx="1414.1" cy="832.1" r="3.45"/><circle cx="1425.0" cy="787.4" r="3.45"/><circle cx="1397.9" cy="811.6" r="3.45"/><circle cx="1375.4" cy="798.6" r="3.45"/><circle cx="1384.4" cy="776.9" r="3.45"/><circle cx="1377.7" cy="817.9" r="3.45"/><circle cx="1382.0" cy="785.1" r="3.45"/><circle cx="1398.2" cy="824.4" r="3.45"/><circle cx="1379.0" cy="797.8" r="3.45"/><circle cx="1408.1" cy="825.2" r="3.45"/><circle cx="1424.8" cy="823.9" r="3.45"/><circle cx="1391.3" cy="795.7" r="3.45"/><circle cx="1396.2" cy="825.2" r="3.45"/><circle cx="1433.4" cy="779.0" r="3.45"/><circle cx="1384.9" cy="784.1" r="3.45"/><circle cx="1388.5" cy="800.1" r="3.45"/><circle cx="1410.5" cy="786.1" r="3.45"/><circle cx="1374.3" cy="795.9" r="3.45"/><circle cx="1396.9" cy="805.2" r="3.45"/><circle cx="1433.1" cy="813.0" r="3.45"/><circle cx="1406.0" cy="808.4" r="3.45"/><circle cx="1415.9" cy="772.9" r="3.45"/><circle cx="1429.8" cy="818.6" r="3.45"/><circle cx="1428.2" cy="819.8" r="3.45"/><circle cx="1398.3" cy="794.6" r="3.45"/><circle cx="1380.4" cy="809.5" r="3.45"/><circle cx="1377.9" cy="773.7" r="3.45"/><circle cx="1386.9" cy="779.7" r="3.45"/><circle cx="1395.1" cy="772.8" r="3.45"/><circle cx="1374.0" cy="779.0" r="3.45"/><circle cx="1380.3" cy="792.4" r="3.45"/><circle cx="1375.6" cy="824.6" r="3.45"/><circle cx="1412.1" cy="778.9" r="3.45"/><circle cx="1389.6" cy="791.4" r="3.45"/><circle cx="1396.6" cy="777.2" r="3.45"/><circle cx="1426.6" cy="832.1" r="3.45"/><circle cx="1402.9" cy="800.0" r="3.45"/><circle cx="1379.3" cy="775.9" r="3.45"/><circle cx="1395.2" cy="786.2" r="3.45"/><circle cx="1425.4" cy="779.7" r="3.45"/><circle cx="1375.4" cy="829.4" r="3.45"/><circle cx="1406.8" cy="778.7" r="3.45"/><circle cx="1407.7" cy="771.2" r="3.45"/><circle cx="1406.7" cy="831.1" r="3.45"/><circle cx="1427.5" cy="813.4" r="3.45"/><circle cx="1390.2" cy="792.6" r="3.45"/><circle cx="1384.4" cy="818.1" r="3.45"/><circle cx="1407.0" cy="818.6" r="3.45"/><circle cx="1394.4" cy="783.6" r="3.45"/><circle cx="1424.3" cy="831.6" r="3.45"/><circle cx="1426.9" cy="820.3" r="3.45"/><circle cx="1424.7" cy="816.1" r="3.45"/><circle cx="1388.1" cy="802.1" r="3.45"/><circle cx="1396.0" cy="771.3" r="3.45"/><circle cx="1375.7" cy="787.1" r="3.45"/><circle cx="1390.1" cy="813.1" r="3.45"/><circle cx="1433.3" cy="797.7" r="3.45"/><circle cx="1432.1" cy="831.7" r="3.45"/><circle cx="1433.2" cy="792.5" r="3.45"/><circle cx="1387.7" cy="783.8" r="3.45"/><circle cx="1386.2" cy="782.4" r="3.45"/><circle cx="1412.7" cy="826.2" r="3.45"/><circle cx="1426.1" cy="799.7" r="3.45"/><circle cx="1414.5" cy="819.9" r="3.45"/><circle cx="1379.3" cy="811.1" r="3.45"/><circle cx="1430.4" cy="818.8" r="3.45"/><circle cx="1420.5" cy="799.6" r="3.45"/><circle cx="1385.1" cy="819.2" r="3.45"/><circle cx="1394.6" cy="820.0" r="3.45"/><circle cx="1434.2" cy="794.4" r="3.45"/><circle cx="1398.9" cy="829.1" r="3.45"/><circle cx="1418.9" cy="780.2" r="3.45"/><circle cx="1381.9" cy="779.0" r="3.45"/><circle cx="1430.1" cy="820.3" r="3.45"/><circle cx="1383.1" cy="821.6" r="3.45"/><circle cx="1434.8" cy="810.9" r="3.45"/><circle cx="1395.7" cy="804.1" r="3.45"/><circle cx="1382.1" cy="770.4" r="3.45"/><circle cx="1434.2" cy="810.4" r="3.45"/><circle cx="1406.6" cy="828.3" r="3.45"/><circle cx="1400.9" cy="824.4" r="3.45"/><circle cx="1425.2" cy="782.8" r="3.45"/><circle cx="1389.6" cy="788.0" r="3.45"/><circle cx="1388.9" cy="806.4" r="3.45"/><circle cx="1390.1" cy="795.9" r="3.45"/><circle cx="1382.1" cy="826.8" r="3.45"/><circle cx="1395.9" cy="798.4" r="3.45"/><circle cx="1410.2" cy="826.5" r="3.45"/><circle cx="1400.1" cy="827.3" r="3.45"/><circle cx="1405.1" cy="803.0" r="3.45"/><circle cx="1406.5" cy="770.7" r="3.45"/><circle cx="1401.3" cy="781.0" r="3.45"/><circle cx="1374.2" cy="819.8" r="3.45"/><circle cx="1384.7" cy="799.3" r="3.45"/><circle cx="1419.0" cy="804.6" r="3.45"/><circle cx="1394.2" cy="802.2" r="3.45"/><circle cx="1408.4" cy="818.9" r="3.45"/><circle cx="1380.6" cy="804.8" r="3.45"/><circle cx="1389.4" cy="786.9" r="3.45"/><circle cx="1421.9" cy="801.5" r="3.45"/><circle cx="1408.8" cy="817.4" r="3.45"/><circle cx="1430.6" cy="797.4" r="3.45"/><circle cx="1412.0" cy="801.3" r="3.45"/><circle cx="1405.8" cy="813.1" r="3.45"/><circle cx="1465.0" cy="803.1" r="3.45"/><circle cx="1496.4" cy="822.4" r="3.45"/><circle cx="1443.8" cy="797.4" r="3.45"/><circle cx="1451.4" cy="774.1" r="3.45"/><circle cx="1486.2" cy="826.0" r="3.45"/><circle cx="1481.8" cy="811.1" r="3.45"/><circle cx="1492.5" cy="830.5" r="3.45"/><circle cx="1499.4" cy="821.9" r="3.45"/><circle cx="1463.6" cy="802.0" r="3.45"/><circle cx="1448.5" cy="789.6" r="3.45"/><circle cx="1437.2" cy="804.4" r="3.45"/><circle cx="1437.2" cy="790.4" r="3.45"/><circle cx="1486.5" cy="830.7" r="3.45"/><circle cx="1453.0" cy="772.0" r="3.45"/><circle cx="1453.3" cy="777.7" r="3.45"/><circle cx="1494.3" cy="821.1" r="3.45"/><circle cx="1445.6" cy="827.4" r="3.45"/><circle cx="1480.8" cy="775.1" r="3.45"/><circle cx="1480.0" cy="796.3" r="3.45"/><circle cx="1441.4" cy="823.4" r="3.45"/><circle cx="1471.4" cy="827.9" r="3.45"/><circle cx="1444.3" cy="802.7" r="3.45"/><circle cx="1443.0" cy="779.7" r="3.45"/><circle cx="1448.9" cy="789.2" r="3.45"/><circle cx="1447.4" cy="791.4" r="3.45"/><circle cx="1452.0" cy="770.5" r="3.45"/><circle cx="1471.3" cy="781.4" r="3.45"/><circle cx="1461.2" cy="801.4" r="3.45"/><circle cx="1481.2" cy="809.6" r="3.45"/><circle cx="1458.2" cy="772.9" r="3.45"/><circle cx="1440.5" cy="816.2" r="3.45"/><circle cx="1446.4" cy="774.8" r="3.45"/><circle cx="1491.7" cy="811.7" r="3.45"/><circle cx="1451.5" cy="788.0" r="3.45"/><circle cx="1446.1" cy="797.6" r="3.45"/><circle cx="1451.6" cy="830.3" r="3.45"/><circle cx="1458.8" cy="769.6" r="3.45"/><circle cx="1466.4" cy="801.2" r="3.45"/><circle cx="1468.3" cy="769.8" r="3.45"/><circle cx="1441.7" cy="794.7" r="3.45"/><circle cx="1437.4" cy="788.7" r="3.45"/><circle cx="1445.6" cy="815.1" r="3.45"/><circle cx="1438.8" cy="822.1" r="3.45"/><circle cx="1444.9" cy="802.5" r="3.45"/><circle cx="1480.4" cy="784.0" r="3.45"/><circle cx="1383.5" cy="772.3" r="3.45"/><circle cx="1406.4" cy="772.3" r="3.45"/><circle cx="1436.1" cy="780.9" r="3.45"/><circle cx="1388.1" cy="787.7" r="3.45"/><circle cx="1400.1" cy="793.4" r="3.45"/><circle cx="1436.1" cy="791.7" r="3.45"/><circle cx="1529.8" cy="801.5" r="3.45"/><circle cx="1686.2" cy="798.6" r="3.45"/><circle cx="1389.2" cy="825.5" r="3.45"/><circle cx="1401.8" cy="818.0" r="3.45"/><circle cx="1421.2" cy="819.8" r="3.45"/><circle cx="1693.7" cy="824.0" r="3.45"/></g>
<line x1="1298.0" y1="867.5" x2="2127.5" y2="867.5" stroke="#000" stroke-width="4.7" stroke-linecap="butt"/>
<rect x="1298.1" y="867.5" width="5.0" height="6.0" fill="#000"/>
<text x="1304.1" y="897.0" font-size="25.5" text-anchor="middle" textLength="45.3" lengthAdjust="spacingAndGlyphs">0.00</text>
<rect x="1504.3" y="867.5" width="5.0" height="6.0" fill="#000"/>
<text x="1510.3" y="897.0" font-size="25.5" text-anchor="middle" textLength="45.3" lengthAdjust="spacingAndGlyphs">0.10</text>
<rect x="1710.5" y="867.5" width="5.0" height="6.0" fill="#000"/>
<text x="1716.5" y="897.0" font-size="25.5" text-anchor="middle" textLength="45.3" lengthAdjust="spacingAndGlyphs">0.20</text>
<rect x="1916.7" y="867.5" width="5.0" height="6.0" fill="#000"/>
<text x="1922.7" y="897.0" font-size="25.5" text-anchor="middle" textLength="45.3" lengthAdjust="spacingAndGlyphs">0.30</text>
<rect x="2122.9" y="867.5" width="5.0" height="6.0" fill="#000"/>
<text x="2128.9" y="897.0" font-size="25.5" text-anchor="middle" textLength="45.3" lengthAdjust="spacingAndGlyphs">0.40</text>
<text x="1683.5" y="938.8" font-size="29" font-style="italic">D</text>
<text x="1709.8" y="946.2" font-size="31" textLength="44.0" lengthAdjust="spacingAndGlyphs">min</text>
<text x="53.0" y="1083.3" font-size="67.5">c</text>
<text x="90.6" y="1083.5" font-size="66" stroke="#000" stroke-width="1.0">)</text>
<path d="M662.4,1067.0H874.5 M662.4,1104.4H874.5 M662.4,1067.0V1104.4 M274.8,1085.7H662.4 M922.2,1141.7H1135.1 M1155.7,1179.1H1368.6 M1155.7,1216.4H1368.6 M1155.7,1179.1V1216.4 M922.2,1197.8H1155.7 M922.2,1141.7V1197.8 M797.2,1169.7H922.2 M1087,1253.8H1298.6 M1087,1291.2H1298.6 M1087,1253.8V1291.2 M1063,1272.5H1087 M1248.4,1328.5H1461.3 M1248.4,1365.9H1461.3 M1248.4,1328.5V1365.9 M1063,1347.2H1248.4 M1063,1272.5V1347.2 M797.2,1309.8H1063 M797.2,1169.7V1309.8 M662.6,1239.8H797.2 M1016.3,1403.2H1229.2 M1016.3,1440.6H1229.2 M1016.3,1403.2V1440.6 M681.1,1421.9H1016.3 M1025.2,1478.0H1238.1 M1025.2,1515.3H1238.1 M1025.2,1478.0V1515.3 M988.8,1496.6H1025.2 M1296.5,1552.7H1509.4 M1319.2,1590.0H1532 M1519.7,1627.4H1732.6 M1519.7,1664.8H1732.6 M1519.7,1627.4V1664.8 M1319.2,1646.1H1519.7 M1319.2,1590.0V1646.1 M1296.5,1618.1H1319.2 M1296.5,1552.7V1618.1 M988.8,1585.4H1296.5 M988.8,1496.6V1585.4 M689.9,1541.0H988.8 M709.5,1702.1H922.2 M760.8,1739.5H972.3 M844.6,1776.8H1056.1 M1341.2,1814.2H1554 M1346.6,1851.6H1557.5 M1346.6,1888.9H1557.5 M1346.6,1851.6V1888.9 M1341.2,1870.2H1346.6 M1341.2,1814.2V1870.2 M1008,1842.2H1341.2 M1310.2,1926.3H1521.8 M1310.2,1963.6H1521.8 M1310.2,1926.3V1963.6 M1304.7,1945.0H1310.2 M1315,2001.0H1526.6 M1315,2038.4H1526.6 M1315,2001.0V2038.4 M1304.7,2019.7H1315 M1304.7,1945.0V2019.7 M1054,1982.3H1304.7 M1198.3,2075.7H1409.8 M1207.2,2113.1H1418.8 M1449.7,2150.4H1661.9 M1457.9,2187.8H1670.8 M1457.9,2225.2H1670.8 M1457.9,2187.8V2225.2 M1449.7,2206.5H1457.9 M1449.7,2150.4V2206.5 M1207.2,2178.5H1449.7 M1207.2,2113.1V2178.5 M1198.3,2145.8H1207.2 M1198.3,2075.7V2145.8 M1054,2110.7H1198.3 M1054,1982.3V2110.7 M1008,2046.5H1054 M1008,1842.2V2046.5 M844.6,1944.4H1008 M844.6,1776.8V1944.4 M760.8,1860.6H844.6 M760.8,1739.5V1860.6 M709.5,1800.0H760.8 M709.5,1702.1V1800.0 M689.9,1751.1H709.5 M689.9,1541.0V1751.1 M681.1,1646.0H689.9 M681.1,1421.9V1646.0 M662.6,1534.0H681.1 M662.6,1239.8V1534.0 M274.8,1386.9H662.6 M274.8,1085.7V1386.9 M263.5,1236.3H274.8" fill="none" stroke="#111" stroke-width="3.5" stroke-linecap="square"/>
<text x="883.4" y="1073.6" font-size="20.8" textLength="204.4" lengthAdjust="spacingAndGlyphs" fill="#111" stroke="#111" stroke-width="0.4">Fsericeum_SB4765</text>
<text x="883.4" y="1111.0" font-size="20.8" textLength="273.6" lengthAdjust="spacingAndGlyphs" fill="#111" stroke="#111" stroke-width="0.4">Fnovocaledoniae_SB4763</text>
<text x="1146.5" y="1148.3" font-size="20.8" textLength="243.6" lengthAdjust="spacingAndGlyphs" fill="#111" stroke="#111" stroke-width="0.4">Sperichaetiale_166G06</text>
<text x="1378.0" y="1185.7" font-size="20.8" textLength="216.2" lengthAdjust="spacingAndGlyphs" fill="#111" stroke="#111" stroke-width="0.4">Sdivinum_Reference</text>
<text x="1378.0" y="1223.0" font-size="20.8" textLength="191.4" lengthAdjust="spacingAndGlyphs" fill="#111" stroke="#111" stroke-width="0.4">Sdivinum_166G09</text>
<text x="1311.3" y="1260.4" font-size="20.8" textLength="165.0" lengthAdjust="spacingAndGlyphs" fill="#111" stroke="#111" stroke-width="0.4">Saffine_160E01</text>
<text x="1311.3" y="1297.8" font-size="20.8" textLength="239.7" lengthAdjust="spacingAndGlyphs" fill="#111" stroke="#111" stroke-width="0.4">Sportoricense_166G07</text>
<text x="1470.6" y="1335.1" font-size="20.8" textLength="170.2" lengthAdjust="spacingAndGlyphs" fill="#111" stroke="#111" stroke-width="0.4">Saffine_160EO1</text>
<text x="1470.6" y="1372.5" font-size="20.8" textLength="132.3" lengthAdjust="spacingAndGlyphs" fill="#111" stroke="#111" stroke-width="0.4">Saffine_GC1</text>
<text x="1240.6" y="1409.8" font-size="20.8" textLength="187.5" lengthAdjust="spacingAndGlyphs" fill="#111" stroke="#111" stroke-width="0.4">Scompactum_LL2</text>
<text x="1240.6" y="1447.2" font-size="20.8" textLength="148.4" lengthAdjust="spacingAndGlyphs" fill="#111" stroke="#111" stroke-width="0.4">Sstrictum_LL1</text>
<text x="1247.4" y="1484.6" font-size="20.8" textLength="273.5" lengthAdjust="spacingAndGlyphs" fill="#111" stroke="#111" stroke-width="0.4">Sangustifolium_Reference</text>
<text x="1247.4" y="1521.9" font-size="20.8" textLength="178.4" lengthAdjust="spacingAndGlyphs" fill="#111" stroke="#111" stroke-width="0.4">Sflexuosum_G24</text>
<text x="1520.8" y="1559.3" font-size="20.8" textLength="127.5" lengthAdjust="spacingAndGlyphs" fill="#111" stroke="#111" stroke-width="0.4">Sfallax_DS2</text>
<text x="1542.8" y="1596.6" font-size="20.8" textLength="126.2" lengthAdjust="spacingAndGlyphs" fill="#111" stroke="#111" stroke-width="0.4">Sfallax_G12</text>
<text x="1742.6" y="1634.0" font-size="20.8" textLength="138.8" lengthAdjust="spacingAndGlyphs" fill="#111" stroke="#111" stroke-width="0.4">Sfallax_DS11</text>
<text x="1742.6" y="1671.4" font-size="20.8" textLength="127.5" lengthAdjust="spacingAndGlyphs" fill="#111" stroke="#111" stroke-width="0.4">Sfallax_DS3</text>
<text x="932.9" y="1708.7" font-size="20.8" textLength="184.9" lengthAdjust="spacingAndGlyphs" fill="#111" stroke="#111" stroke-width="0.4">Ssquarrosum_IT1</text>
<text x="983.0" y="1746.1" font-size="20.8" textLength="171.8" lengthAdjust="spacingAndGlyphs" fill="#111" stroke="#111" stroke-width="0.4">Scribrosum_SL1</text>
<text x="1066.8" y="1783.4" font-size="20.8" textLength="179.2" lengthAdjust="spacingAndGlyphs" fill="#111" stroke="#111" stroke-width="0.4">Sfimbriatum_G11</text>
<text x="1566.8" y="1820.8" font-size="20.8" textLength="147.1" lengthAdjust="spacingAndGlyphs" fill="#111" stroke="#111" stroke-width="0.4">Sfuscum_G28</text>
<text x="1568.9" y="1858.2" font-size="20.8" textLength="160.1" lengthAdjust="spacingAndGlyphs" fill="#111" stroke="#111" stroke-width="0.4">Sfuscum_G213</text>
<text x="1568.9" y="1895.5" font-size="20.8" textLength="160.1" lengthAdjust="spacingAndGlyphs" fill="#111" stroke="#111" stroke-width="0.4">Sfuscum_G210</text>
<text x="1531.0" y="1932.9" font-size="20.8" textLength="192.7" lengthAdjust="spacingAndGlyphs" fill="#111" stroke="#111" stroke-width="0.4">Scapillifolium_G27</text>
<text x="1531.0" y="1970.2" font-size="20.8" textLength="207.0" lengthAdjust="spacingAndGlyphs" fill="#111" stroke="#111" stroke-width="0.4">Scapillifolium_DS13</text>
<text x="1537.3" y="2007.6" font-size="20.8" textLength="194.0" lengthAdjust="spacingAndGlyphs" fill="#111" stroke="#111" stroke-width="0.4">Scapillifolium_DS6</text>
<text x="1537.3" y="2045.0" font-size="20.8" textLength="194.0" lengthAdjust="spacingAndGlyphs" fill="#111" stroke="#111" stroke-width="0.4">Scapillifolium_DS1</text>
<text x="1421.2" y="2082.3" font-size="20.8" textLength="161.4" lengthAdjust="spacingAndGlyphs" fill="#111" stroke="#111" stroke-width="0.4">Srubellum_G21</text>
<text x="1429.4" y="2119.7" font-size="20.8" textLength="161.4" lengthAdjust="spacingAndGlyphs" fill="#111" stroke="#111" stroke-width="0.4">Srubellum_G29</text>
<text x="1671.2" y="2157.0" font-size="20.8" textLength="162.7" lengthAdjust="spacingAndGlyphs" fill="#111" stroke="#111" stroke-width="0.4">Srubellum_DS7</text>
<text x="1681.5" y="2194.4" font-size="20.8" textLength="162.7" lengthAdjust="spacingAndGlyphs" fill="#111" stroke="#111" stroke-width="0.4">Srubellum_DS8</text>
<text x="1681.5" y="2231.8" font-size="20.8" textLength="175.8" lengthAdjust="spacingAndGlyphs" fill="#111" stroke="#111" stroke-width="0.4">Srubellum_DS10</text>
<text x="469.0" y="1072.6" font-size="20.4" text-anchor="middle" textLength="12.4" lengthAdjust="spacingAndGlyphs" fill="#111" stroke="#000" stroke-width="0.35">1</text>
<text x="469.0" y="1374.8" font-size="20.4" text-anchor="middle" textLength="12.4" lengthAdjust="spacingAndGlyphs" fill="#111" stroke="#000" stroke-width="0.35">1</text>
<text x="728.5" y="1227.3" font-size="20.4" text-anchor="middle" textLength="12.4" lengthAdjust="spacingAndGlyphs" fill="#111" stroke="#000" stroke-width="0.35">1</text>
<text x="860.4" y="1157.3" font-size="20.4" text-anchor="middle" textLength="12.4" lengthAdjust="spacingAndGlyphs" fill="#111" stroke="#000" stroke-width="0.35">1</text>
<text x="1039.0" y="1185.3" font-size="20.4" text-anchor="middle" textLength="12.4" lengthAdjust="spacingAndGlyphs" fill="#111" stroke="#000" stroke-width="0.35">1</text>
<text x="930.4" y="1297.3" font-size="20.4" text-anchor="middle" textLength="12.4" lengthAdjust="spacingAndGlyphs" fill="#111" stroke="#000" stroke-width="0.35">1</text>
<text x="1074.7" y="1260.3" font-size="20.4" text-anchor="middle" textLength="12.4" lengthAdjust="spacingAndGlyphs" fill="#111" stroke="#000" stroke-width="0.35">1</text>
<text x="1155.7" y="1334.3" font-size="20.4" text-anchor="middle" textLength="12.4" lengthAdjust="spacingAndGlyphs" fill="#111" stroke="#000" stroke-width="0.35">1</text>
<text x="850.0" y="1409.3" font-size="20.4" text-anchor="middle" textLength="12.4" lengthAdjust="spacingAndGlyphs" fill="#111" stroke="#000" stroke-width="0.35">1</text>
<text x="671.3" y="1521.3" font-size="20.4" text-anchor="middle" textLength="12.4" lengthAdjust="spacingAndGlyphs" fill="#111" stroke="#000" stroke-width="0.35">1</text>
<text x="664.4" y="1645.8" font-size="20.4" text-anchor="middle" textLength="12.4" lengthAdjust="spacingAndGlyphs" fill="#111" stroke="#000" stroke-width="0.35">1</text>
<text x="841.5" y="1527.8" font-size="20.4" text-anchor="middle" textLength="12.4" lengthAdjust="spacingAndGlyphs" fill="#111" stroke="#000" stroke-width="0.35">1</text>
<text x="1008.0" y="1484.3" font-size="20.4" text-anchor="middle" textLength="12.4" lengthAdjust="spacingAndGlyphs" fill="#111" stroke="#000" stroke-width="0.35">1</text>
<text x="1144.0" y="1572.9" font-size="20.4" text-anchor="middle" textLength="12.4" lengthAdjust="spacingAndGlyphs" fill="#111" stroke="#000" stroke-width="0.35">1</text>
<text x="1308.0" y="1605.9" font-size="20.4" text-anchor="middle" textLength="12.4" lengthAdjust="spacingAndGlyphs" fill="#111" stroke="#000" stroke-width="0.35">1</text>
<text x="1418.8" y="1633.3" font-size="20.4" text-anchor="middle" textLength="12.4" lengthAdjust="spacingAndGlyphs" fill="#111" stroke="#000" stroke-width="0.35">1</text>
<text x="700.5" y="1738.7" font-size="20.4" text-anchor="middle" textLength="12.4" lengthAdjust="spacingAndGlyphs" fill="#111" stroke="#000" stroke-width="0.35">1</text>
<text x="735.5" y="1786.3" font-size="20.4" text-anchor="middle" textLength="12.4" lengthAdjust="spacingAndGlyphs" fill="#111" stroke="#000" stroke-width="0.35">1</text>
<text x="802.3" y="1847.3" font-size="20.4" text-anchor="middle" textLength="12.4" lengthAdjust="spacingAndGlyphs" fill="#111" stroke="#000" stroke-width="0.35">1</text>
<text x="926.3" y="1932.1" font-size="20.4" text-anchor="middle" textLength="12.4" lengthAdjust="spacingAndGlyphs" fill="#111" stroke="#000" stroke-width="0.35">1</text>
<text x="1176.3" y="1829.8" font-size="20.4" text-anchor="middle" textLength="12.4" lengthAdjust="spacingAndGlyphs" fill="#111" stroke="#000" stroke-width="0.35">1</text>
<text x="1314.0" y="1875.3" font-size="20.4" text-anchor="middle" textLength="43.4" lengthAdjust="spacingAndGlyphs" fill="#111" stroke="#000" stroke-width="0.35">0.78</text>
<text x="1032.0" y="2033.8" font-size="20.4" text-anchor="middle" textLength="12.4" lengthAdjust="spacingAndGlyphs" fill="#111" stroke="#000" stroke-width="0.35">1</text>
<text x="1181.0" y="1969.9" font-size="20.4" text-anchor="middle" textLength="12.4" lengthAdjust="spacingAndGlyphs" fill="#111" stroke="#000" stroke-width="0.35">1</text>
<text x="1275.0" y="1939.0" font-size="20.4" text-anchor="middle" textLength="43.4" lengthAdjust="spacingAndGlyphs" fill="#111" stroke="#000" stroke-width="0.35">0.95</text>
<text x="1289.6" y="2033.8" font-size="20.4" text-anchor="middle" textLength="12.4" lengthAdjust="spacingAndGlyphs" fill="#111" stroke="#000" stroke-width="0.35">1</text>
<text x="1126.9" y="2097.7" font-size="20.4" text-anchor="middle" textLength="12.4" lengthAdjust="spacingAndGlyphs" fill="#111" stroke="#000" stroke-width="0.35">1</text>
<text x="1179.7" y="2150.3" font-size="20.4" text-anchor="middle" textLength="12.4" lengthAdjust="spacingAndGlyphs" fill="#111" stroke="#000" stroke-width="0.35">1</text>
<text x="1327.4" y="2165.7" font-size="20.4" text-anchor="middle" textLength="12.4" lengthAdjust="spacingAndGlyphs" fill="#111" stroke="#000" stroke-width="0.35">1</text>
<text x="1432.5" y="2217.3" font-size="20.4" text-anchor="middle" textLength="12.4" lengthAdjust="spacingAndGlyphs" fill="#111" stroke="#000" stroke-width="0.35">1</text>
<line x1="884.4" y1="2091.7" x2="1036.9" y2="2091.7" stroke="#111" stroke-width="3.2" stroke-linecap="butt"/>
<text x="959.3" y="2120.6" font-size="22" text-anchor="middle" textLength="33.0" lengthAdjust="spacingAndGlyphs" fill="#111" stroke="#000" stroke-width="0.35">0.7</text>
</svg>
</body></html>
